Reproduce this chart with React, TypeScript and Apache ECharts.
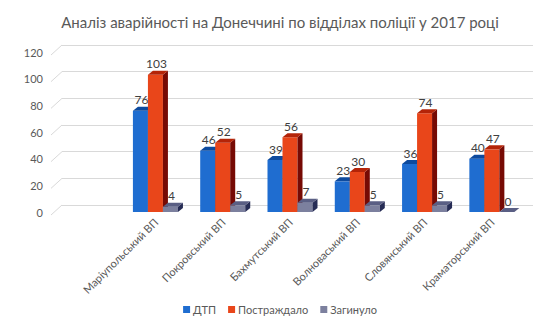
import React, { useEffect, useRef } from "react";
import * as echarts from "echarts";

const categories = [
  "Маріупольський ВП",
  "Покровський ВП",
  "Бахмутський ВП",
  "Волноваський ВП",
  "Словянський ВП",
  "Краматорський ВП",
];
const dtp = [76, 46, 39, 23, 36, 40];
const injured = [103, 52, 56, 30, 74, 47];
const killed = [4, 5, 7, 5, 5, 0];
const seriesNames = ["ДТП", "Постраждало", "Загинуло"];
const yTicks = [0, 20, 40, 60, 80, 100, 120];
const titleText = "Аналіз аварійності на Донеччині по відділах поліції у 2017 році";

const FONT = "Lato, 'Open Sans', sans-serif";
const faces = [
  { front: "#1f6dd0", top: "#0d4a9e", side: "#0a3678" },
  { front: "#e9461a", top: "#b42408", side: "#760a04" },
  { front: "#7c809e", top: "#5a5f84", side: "#262c55" },
];

export default function App() {
  const ref = useRef<HTMLDivElement>(null);
  useEffect(() => {
    if (!ref.current) return;
    const chart = echarts.init(ref.current, null, { renderer: "svg" });
    const xCats = ["", ...categories];
    const seriesData = [dtp, injured, killed];

    const barSeries = seriesData.map((vals, idx) => ({
      type: "custom",
      name: seriesNames[idx],
      xAxisIndex: 1,
      yAxisIndex: 1,
      itemStyle: { color: faces[idx].front },
      encode: { x: 0, y: 1 },
      data: vals.map((v, i) => [i + 1, v]),
      renderItem: (params: any, api: any) => {
        const ci = api.value(0);
        const v = api.value(1);
        const base = api.coord([ci, 0]);
        const top = api.coord([ci, v]);
        const band = api.size([1, 0])[0];
        const bw = band * 0.223;
        const x0 = base[0] - 1.5 * bw + idx * bw - 0.5;
        const x1 = x0 + bw;
        const yB = base[1];
        const yT = top[1];
        const dx = 5;
        const dy = 4;
        const f = faces[idx];
        return {
          type: "group",
          children: [
            {
              type: "rect",
              shape: { x: x0, y: yT, width: bw, height: Math.max(0, yB - yT) },
              style: { fill: f.front },
            },
            {
              type: "polygon",
              shape: { points: [[x1, yT], [x1 + dx, yT - dy], [x1 + dx, yB - dy], [x1, yB]] },
              style: { fill: f.side },
            },
            {
              type: "polygon",
              shape: { points: [[x0, yT], [x0 + dx, yT - dy], [x1 + dx, yT - dy], [x1, yT]] },
              style: { fill: f.top },
            },
            {
              type: "text",
              style: {
                text: String(v),
                x: x0 + bw / 2 + 1,
                y: yT - 5,
                align: "center",
                verticalAlign: "bottom",
                fill: "#404040",
                font: `12px ${FONT}`,
              },
            },
          ],
        };
      },
    }));

    const stubSeries = {
      type: "custom",
      name: "stubs",
      xAxisIndex: 0,
      yAxisIndex: 0,
      silent: true,
      encode: { y: 0 },
      data: yTicks.map((t) => [t]),
      renderItem: (params: any, api: any) => {
        const y = api.coord([0, api.value(0)])[1];
        const x = params.coordSys.x;
        return {
          type: "line",
          shape: { x1: x - 11, y1: y + 10, x2: x, y2: y },
          style: { stroke: "#d9d9d9", lineWidth: 1 },
        };
      },
    };

    chart.setOption({
      animation: false,
      backgroundColor: "#ffffff",
      textStyle: { fontFamily: FONT },
      title: {
        text: titleText,
        left: "center",
        top: 9,
        textStyle: { fontSize: 15, fontWeight: "normal", color: "#595959", fontFamily: FONT },
      },
      legend: {
        bottom: 10,
        left: "center",
        icon: "rect",
        itemWidth: 7,
        itemHeight: 7,
        itemGap: 12,
        data: seriesNames,
        textStyle: { fontSize: 11, color: "#595959", fontFamily: FONT, padding: [0, 0, 0, -2] },
      },
      grid: [
        { left: 62, right: 27, top: 45, bottom: 125 },
        { left: 55, right: 34, top: 52, bottom: 118 },
      ],
      xAxis: [
        {
          type: "category",
          gridIndex: 0,
          data: xCats,
          show: false,
        },
        {
          type: "category",
          gridIndex: 1,
          data: xCats,
          axisLine: { show: false },
          axisTick: { show: false },
          axisLabel: {
            interval: 0,
            rotate: 45,
            margin: 8,
            fontSize: 11,
            color: "#595959",
            fontFamily: FONT,
          },
        },
      ],
      yAxis: [
        {
          type: "value",
          gridIndex: 0,
          min: 0,
          max: 120,
          interval: 20,
          axisLabel: { show: false },
          axisLine: { show: false },
          axisTick: { show: false },
          splitLine: { lineStyle: { color: "#d9d9d9", width: 1 } },
        },
        {
          type: "value",
          gridIndex: 1,
          min: 0,
          max: 120,
          interval: 20,
          axisLine: { show: false },
          axisTick: { show: false },
          splitLine: { show: false },
          axisLabel: { margin: 12, fontSize: 11, color: "#595959", fontFamily: FONT },
        },
      ],
      series: [stubSeries, ...barSeries],
    });
    return () => chart.dispose();
  }, []);
  return (
    <div
      ref={ref}
      style={{ position: "fixed", left: 0, top: 0, width: 560, height: 330 }}
    />
  );
}
